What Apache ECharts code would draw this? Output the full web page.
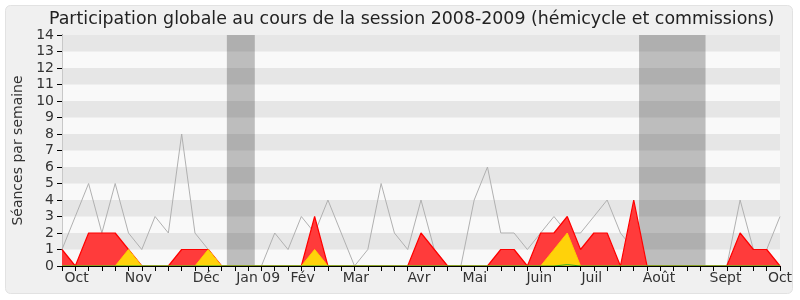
<!DOCTYPE html>
<html>
<head>
<meta charset="utf-8">
<script src="https://cdn.jsdelivr.net/npm/echarts@6/dist/echarts.min.js"></script>
<style>
html,body{margin:0;padding:0;background:#fff;}
#c{width:800px;height:300px;}
</style>
</head>
<body>
<div id="c"></div>
<script>
// weekly values, index 0..54
const totalSeances = [1,3,5,2,5,2,1,3,2,8,2,1,0,0,0,0,2,1,3,2,4,2,0,1,5,2,1,4,1,0,0,4,6,2,2,1,2,3,2,2,3,4,2,1,0,0,0,0,0,0,0,4,1,1,3];
const presence     = [1,0,2,2,2,1,0,0,0,1,1,1,0,0,0,0,0,0,0,3,0,0,0,0,0,0,0,2,1,0,0,0,0,1,1,0,2,2,3,1,2,2,0,4,0,0,0,0,0,0,0,2,1,1,0];
const interventions= [0,0,0,0,0,1,0,0,0,0,0,1,0,0,0,0,0,0,0,1,0,0,0,0,0,0,0,0,0,0,0,0,0,0,0,0,0,1,2,0,0,0,0,0,0,0,0,0,0,0,0,0,0,0,0];
const questions    = [0,0,0,0,0,0,0,0,0,0,0,0,0,0,0,0,0,0,0,0,0,0,0,0,0,0,0,0,0,0,0,0,0,0,0,0,0,0,0.08,0,0,0,0,0,0,0,0,0,0,0,0,0,0,0,0];
const monthLabels  = ['Oct','Nov','Déc','Jan 09','Fév','Mar','Avr','Mai','Juin','Juil','Août','Sept','Oct'];
const monthPos     = [1.1,5.75,10.85,14.75,18.1,22.1,26.85,31.05,35.9,39.85,44.9,49.9,54];
const holidayStart = [12.4,43.4];
const holidayEnd   = [14.5,48.4];
const yTicks = [0,1,2,3,4,5,6,7,8,9,10,11,12,13,14];

const weeks = totalSeances.map((v,i)=>i);
const pairs = arr => arr.map((v,i)=>[weeks[i], v]);

const chart = echarts.init(document.getElementById('c'), null, {renderer:'canvas'});
const font = 'DejaVu Sans';
chart.setOption({
  animation:false,
  backgroundColor:'#ffffff',
  textStyle:{fontFamily:font},
  graphic:[{type:'rect', z:-10, shape:{x:5.5,y:5.5,width:787,height:288,r:5},
    style:{fill:'#f0f0f0', stroke:'#e2e2e2', lineWidth:1}}],
  title:{text:'Participation globale au cours de la session 2008-2009 (hémicycle et commissions)',
    left:44, top:6, textStyle:{fontFamily:font, fontSize:17.4, fontWeight:'normal', color:'#222'}},
  grid:{left:62, right:20, top:35, bottom:34, show:true, backgroundColor:'#f9f9f9', borderWidth:0},
  xAxis:[{
    type:'value', min:0, max:weeks.length-1, interval:1, position:'bottom', z:6,
    axisLine:{show:true, lineStyle:{color:'#000', width:1}},
    axisTick:{show:true, length:5, lineStyle:{color:'#000'}, customValues:weeks},
    axisLabel:{show:true, customValues:monthPos, fontSize:14, color:'#333', margin:5,
      formatter:v=>{const k=monthPos.indexOf(v); return k>=0?monthLabels[k]:'';}},
    splitLine:{show:false}
  },{
    type:'value', min:0, max:weeks.length-1, interval:1, position:'top',
    axisLine:{show:false},
    axisTick:{show:true, inside:true, length:2, lineStyle:{color:'#000'}},
    axisLabel:{show:false}, splitLine:{show:false}
  }],
  yAxis:[{
    type:'value', min:yTicks[0], max:yTicks[yTicks.length-1], interval:1,
    name:'Séances par semaine', nameLocation:'middle', nameGap:37,
    nameTextStyle:{fontSize:14, color:'#333', fontFamily:font},
    axisLine:{show:true, lineStyle:{color:'#000'}},
    axisTick:{show:true, length:5, lineStyle:{color:'#000'}},
    axisLabel:{fontSize:14, color:'#333', margin:8},
    splitLine:{show:false},
    splitArea:{show:true, areaStyle:{color:['#f9f9f9','#e6e6e6']}}
  },{
    type:'value', min:yTicks[0], max:yTicks[yTicks.length-1], position:'right',
    axisLine:{show:true, lineStyle:{color:'#c8c8c8'}},
    axisTick:{show:false}, axisLabel:{show:false}, splitLine:{show:false}, splitArea:{show:false}
  }],
  series:[
    {type:'line', data:pairs(totalSeances), symbol:'none', z:2,
      lineStyle:{color:'#b0b0b0', width:1}},
    {type:'line', data:pairs(presence), symbol:'none', z:3,
      lineStyle:{color:'#ff0000', width:1.2}, areaStyle:{color:'#ff3b3b', opacity:1}},
    {type:'line', data:pairs(interventions), symbol:'none', z:4,
      lineStyle:{color:'#ffcc00', width:1}, areaStyle:{color:'#ffd20a', opacity:1}},
    {type:'line', data:pairs(questions), symbol:'none', z:5,
      lineStyle:{color:'#22aa22', width:1}},
    {type:'line', data:[], z:10, silent:true,
      markArea:{silent:true, itemStyle:{color:'rgba(0,0,0,0.24)'},
        data:holidayStart.map((s,i)=>[{xAxis:s},{xAxis:holidayEnd[i]}])}}
  ]
});
</script>
</body>
</html>
